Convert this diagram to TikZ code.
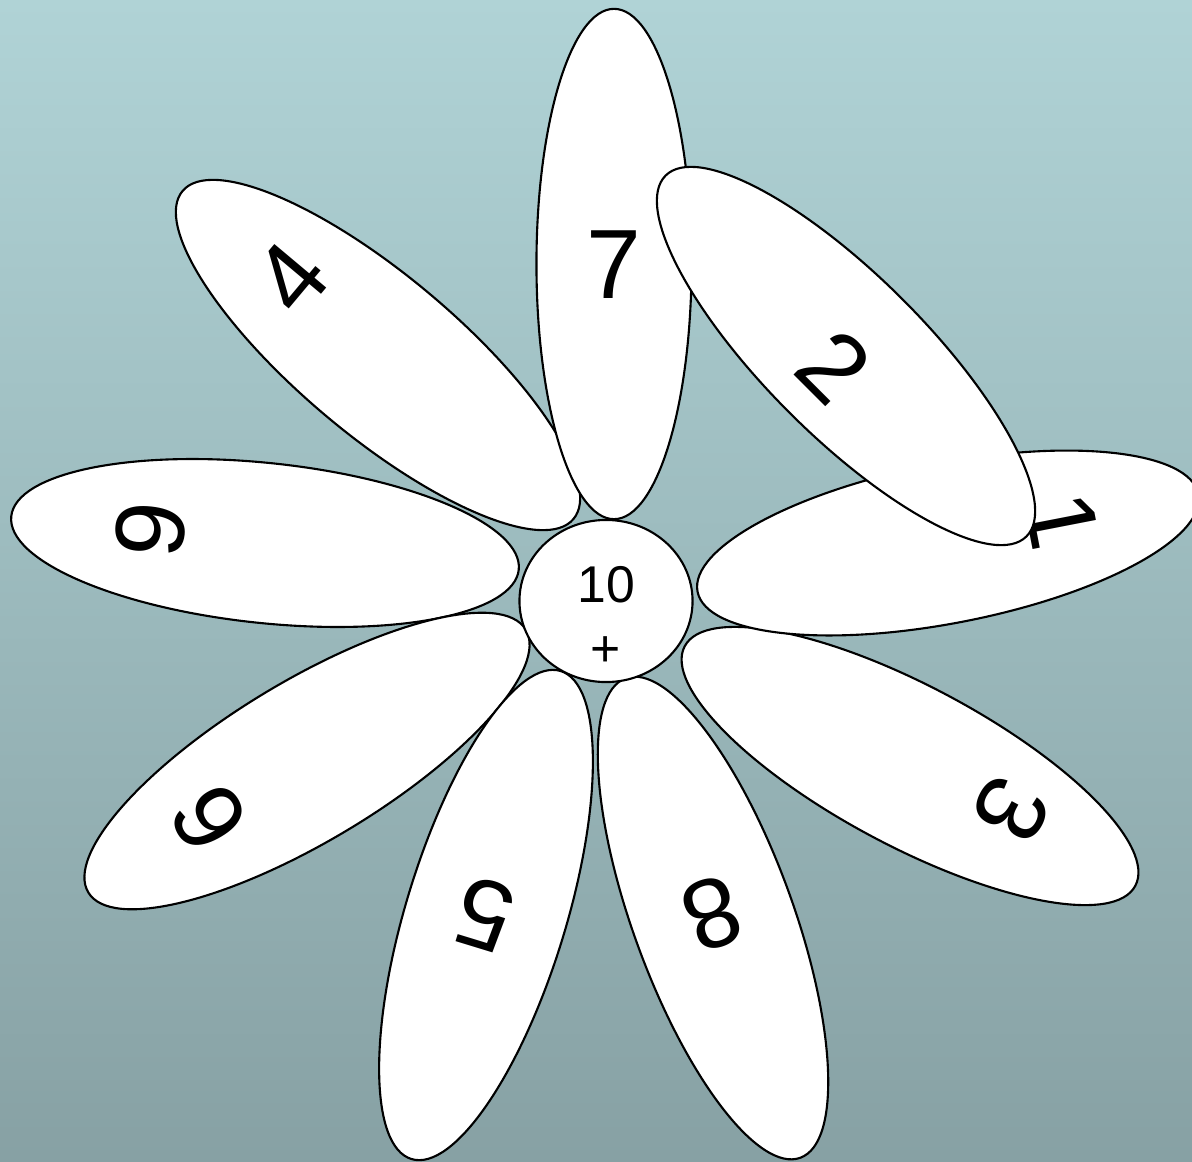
\documentclass[tikz,border=0pt]{standalone}
\usepackage{fontspec}
\setmainfont{Liberation Sans}
\usetikzlibrary{shapes.geometric}

\definecolor{skytop}{RGB}{176,211,214}
\definecolor{skybot}{RGB}{135,161,164}

\begin{document}
\begin{tikzpicture}[x=0.01cm, y=-0.01cm,
    petal/.style={draw, ellipse, fill=white, line width=0.6pt, minimum width=5.1cm, minimum height=1.6cm, inner sep=0pt},
    num/.style={font=\fontsize{28}{30}\selectfont, inner sep=0pt}]
  \useasboundingbox (0,0) rectangle (1192,1161);
  \shade[top color=skytop, bottom color=skybot] (0,0) rectangle (1192,1161);
  \clip (0,0) rectangle (1192,1161);
  % petals, back to front
  \node[petal, rotate=140] (p4) at (378,355) {};
  \node[num, rotate=50] (n4) at (291,278) {4};
  \node[petal, rotate=174] (p9) at (265,543) {};
  \node[num, rotate=84] (n9) at (151,530) {9};
  \node[petal, rotate=211] (p6) at (307,761) {};
  \node[num, rotate=121] (n6) at (209,818) {6};
  \node[petal, rotate=-107] (p5) at (486,915) {};
  \node[num, rotate=163] (n5) at (485,914) {5};
  \node[petal, rotate=-70] (p8) at (713,918) {};
  \node[num, rotate=-160] (n8) at (712,914) {8};
  \node[petal, rotate=-28] (p3) at (910,766) {};
  \node[num, rotate=-118] (n3) at (1012,810) {3};
  \node[petal, rotate=11] (p1) at (948,543) {};
  \node[num, rotate=-79] (n1) at (1062,521) {1};
  \node[petal, rotate=90, minimum height=1.55cm] (p7) at (614,264) {};
  \node[num] (n7) at (614,265) {7};
  \node[petal, rotate=-45] (p2) at (846,356) {};
  \node[num, rotate=-45] (n2) at (834,367) {2};
  % centre
  \node[draw, ellipse, fill=white, line width=0.6pt, minimum width=1.73cm, minimum height=1.62cm, inner sep=0pt] (hub) at (606,601) {};
  \node[font=\fontsize{14.7}{18.2}\selectfont, align=center, inner sep=0pt] (hubtxt) at (606,616) {10\\+};
\end{tikzpicture}
\end{document}
